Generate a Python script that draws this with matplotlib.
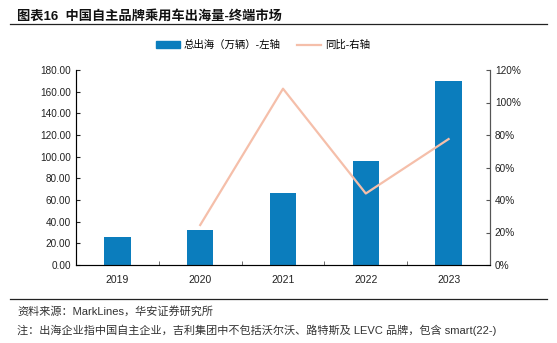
import matplotlib.pyplot as plt
from matplotlib.lines import Line2D
import numpy as np

plt.rcParams['font.family'] = ['Liberation Sans', 'Noto Sans CJK SC', 'DejaVu Sans']
plt.rcParams['axes.unicode_minus'] = False

years = ['2019', '2020', '2021', '2022', '2023']
export_total = [25.8, 32.3, 66.8, 96.0, 169.6]   # 万辆
yoy = [None, 24.6, 108.5, 44.0, 77.5]            # %

bar_color = '#0B7DBD'
line_color = '#F5BFAA'
axis_color = '#555555'

fig = plt.figure(figsize=(5.57, 3.43), dpi=100)
ax = fig.add_axes([76 / 557, 1 - 265 / 343, (490 - 76) / 557, (265 - 70) / 343])
x = np.arange(len(years))
ax.bar(x, export_total, width=0.32, color=bar_color, zorder=2)
ax.set_xlim(-0.5, len(years) - 0.5)
ax.set_ylim(0, 180)
ax.set_yticks(np.arange(0, 181, 20))
ax.set_yticklabels([f'{v:.2f}' for v in np.arange(0, 181, 20)])
ax.set_xticks(x)
ax.set_xticklabels(years)
ax.set_xticks(np.arange(-0.5, len(years), 1), minor=True)
ax.tick_params(axis='x', which='major', length=0, pad=7, labelsize=7.5)
ax.tick_params(axis='x', which='minor', direction='in', length=3, color=axis_color)
ax.tick_params(axis='y', direction='in', length=3, color=axis_color, labelsize=7.2)
ax.tick_params(colors='#222222')
ax.spines['top'].set_visible(False)
for s in ['left', 'bottom', 'right']:
    ax.spines[s].set_color(axis_color)

ax2 = ax.twinx()
yx = [i for i, v in enumerate(yoy) if v is not None]
yv = [v for v in yoy if v is not None]
ax2.plot(yx, yv, color=line_color, lw=1.6, zorder=3)
ax2.set_ylim(0, 120)
ax2.set_yticks(np.arange(0, 121, 20))
ax2.set_yticklabels([f'{v}%' for v in range(0, 121, 20)])
ax2.tick_params(axis='y', direction='in', length=3, color=axis_color, labelsize=7.2, colors='#222222')
ax2.spines['top'].set_visible(False)
ax2.spines['right'].set_color(axis_color)

handles = [plt.Rectangle((0, 0), 1, 1, color=bar_color),
           Line2D([0], [0], color=line_color, lw=1.6)]
fig.legend(handles, ['总出海（万辆）-左轴', '同比-右轴'], loc='center',
           bbox_to_anchor=(263 / 557, 1 - 45 / 343), ncol=2, frameon=False,
           fontsize=7.5, handlelength=2.3, handleheight=0.6, handletextpad=0.4,
           columnspacing=1.6)

fig.text(17 / 557, 1 - 16 / 343, '图表16  中国自主品牌乘用车出海量-终端市场',
         fontsize=9.5, fontweight='bold', va='center', color='#111111')
fig.add_artist(Line2D([10 / 557, 547 / 557], [1 - 24 / 343] * 2, color='#222222', lw=0.9))
fig.add_artist(Line2D([10 / 557, 547 / 557], [1 - 299 / 343] * 2, color='#222222', lw=0.9))
fig.text(17 / 557, 1 - 311 / 343, '资料来源：MarkLines，华安证券研究所',
         fontsize=8, va='center', color='#333333')
fig.text(17 / 557, 1 - 330 / 343,
         '注：出海企业指中国自主企业，吉利集团中不包括沃尔沃、路特斯及 LEVC 品牌，包含 smart(22-)',
         fontsize=8, va='center', color='#333333')

fig.savefig('out.png', dpi=100)
